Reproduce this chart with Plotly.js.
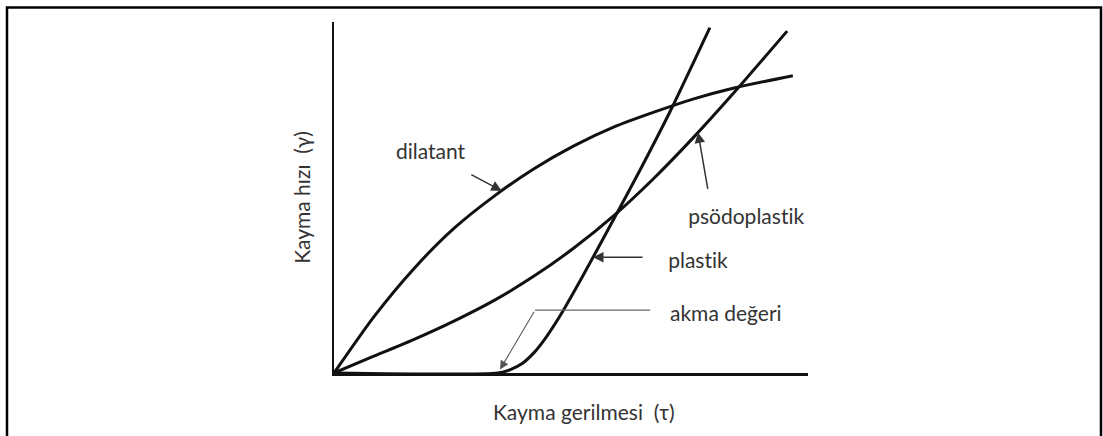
<!DOCTYPE html>
<html>
<head>
<meta charset="utf-8">
<script src="https://cdn.plot.ly/plotly-3.0.1.min.js"></script>
<style>
  html, body { margin: 0; padding: 0; background: #ffffff; }
  #chart { width: 1103px; height: 436px; }
  #chart text { font-variant-ligatures: none; font-feature-settings: "liga" 0, "clig" 0; }
</style>
</head>
<body>
<div id="chart"></div>
<script>
// Flow curves: shear rate (γ) against shear stress (τ), arbitrary units 0–10
const dilatantX = [0, 0.84, 1.69, 2.53, 3.38, 4.22, 5.06, 5.91, 6.75, 7.59, 8.44, 9.68];
const dilatantY = [0, 1.60, 2.98, 4.12, 5.04, 5.82, 6.47, 7.01, 7.43, 7.81, 8.12, 8.47];

const psodoX = [0, 0.84, 1.69, 2.53, 3.38, 4.22, 5.06, 5.91, 6.75, 7.59, 8.44, 9.56];
const psodoY = [0, 0.48, 0.96, 1.48, 2.07, 2.76, 3.56, 4.49, 5.55, 6.72, 7.99, 9.74];

const plastikX = [0, 3.46, 3.71, 3.97, 4.22, 4.47, 4.77, 5.19, 5.82, 6.46, 7.09, 7.93];
const plastikY = [0, 0, 0.09, 0.27, 0.58, 1.01, 1.63, 2.62, 4.18, 5.79, 7.45, 9.84];

// Yield stress: where the plastic curve leaves the stress axis
const akmaDegeri = plastikX[1];

const labels = {
  x: 'Kayma gerilmesi  (τ)',
  y: 'Kayma hızı  (γ)',
  dilatant: 'dilatant',
  psodo: 'psödoplastik',
  plastik: 'plastik',
  akma: 'akma değeri'
};

// linear lookup of y at a given x along a curve
function yAt(xs, ys, x) {
  for (let i = 1; i < xs.length; i++) {
    if (x <= xs[i]) {
      const t = (x - xs[i - 1]) / (xs[i] - xs[i - 1]);
      return ys[i - 1] + t * (ys[i] - ys[i - 1]);
    }
  }
  return ys[ys.length - 1];
}
// linear lookup of x at a given y along a rising curve
function xAt(xs, ys, y) {
  for (let i = 1; i < ys.length; i++) {
    if (y <= ys[i] && ys[i] > ys[i - 1]) {
      const t = (y - ys[i - 1]) / (ys[i] - ys[i - 1]);
      return xs[i - 1] + t * (xs[i] - xs[i - 1]);
    }
  }
  return xs[xs.length - 1];
}

const curveLine = { color: '#111111', width: 3, shape: 'spline', smoothing: 0.7 };

const traces = [
  { x: dilatantX, y: dilatantY, mode: 'lines', line: curveLine, name: labels.dilatant, hoverinfo: 'skip' },
  { x: psodoX, y: psodoY, mode: 'lines', line: curveLine, name: labels.psodo, hoverinfo: 'skip' },
  { x: plastikX, y: plastikY, mode: 'lines', line: curveLine, name: labels.plastik, hoverinfo: 'skip' }
];

const textFont = { family: 'Lato, "Open Sans", sans-serif', size: 21, color: '#333333' };

// arrow tips on the curves
const dilX = 3.54, dilY = yAt(dilatantX, dilatantY, dilX);
const psoX = 7.68, psoY = yAt(psodoX, psodoY, psoX);
const plaY = 3.30, plaX = xAt(plastikX, plastikY, plaY);
const bendX = 4.24, bendY = 1.79;

const annotations = [
  // stress-axis title, set slightly right of the axis centre
  { xref: 'paper', yref: 'paper', x: 0.527, y: -0.111, xanchor: 'center', yanchor: 'middle',
    text: labels.x, showarrow: false, font: textFont },

  { x: 1.26, y: 6.33, xanchor: 'left', yanchor: 'middle', text: labels.dilatant, showarrow: false, font: textFont },
  { x: 7.43, y: 4.48, xanchor: 'left', yanchor: 'middle', text: labels.psodo, showarrow: false, font: textFont },
  { x: 7.01, y: 3.23, xanchor: 'left', yanchor: 'middle', text: labels.plastik, showarrow: false, font: textFont },
  { x: 7.05, y: 1.72, xanchor: 'left', yanchor: 'middle', text: labels.akma, showarrow: false, font: textFont },

  { x: dilX, y: dilY, text: '', showarrow: true, ax: -32, ay: -17,
    arrowhead: 2, arrowsize: 1.4, arrowwidth: 1.5, arrowcolor: '#333333' },
  { x: psoX, y: psoY, text: '', showarrow: true, ax: 10, ay: 58,
    arrowhead: 2, arrowsize: 1.4, arrowwidth: 1.5, arrowcolor: '#333333' },
  { x: plaX, y: plaY, text: '', showarrow: true, ax: 51, ay: 0,
    arrowhead: 2, arrowsize: 1.4, arrowwidth: 1.5, arrowcolor: '#333333' },
  { x: akmaDegeri, y: 0, text: '', showarrow: true, axref: 'x', ayref: 'y', ax: bendX, ay: bendY,
    arrowhead: 2, arrowsize: 1.6, arrowwidth: 1.1, arrowcolor: '#555555', standoff: 4 }
];

const shapes = [
  // leader from the yield-value label to the bend of its arrow
  { type: 'line', xref: 'x', yref: 'y', x0: bendX, y0: bendY, x1: 6.67, y1: bendY,
    line: { color: '#666666', width: 1.2 } },
  // outer frame
  { type: 'rect', xref: 'paper', yref: 'paper',
    x0: (7 - 334) / 474, x1: (1101 - 334) / 474, y0: (373 - 460) / 351, y1: (373 - 7.5) / 351,
    line: { color: '#000000', width: 2.5 }, fillcolor: 'rgba(0,0,0,0)', layer: 'above' }
];

const axisCommon = {
  range: [0, 10],
  showgrid: false,
  zeroline: false,
  showticklabels: false,
  ticks: '',
  showline: true,
  linecolor: '#111111',
  linewidth: 2.5,
  fixedrange: true
};

const layout = {
  width: 1103,
  height: 436,
  margin: { l: 334, r: 295, t: 22, b: 63 },
  paper_bgcolor: '#ffffff',
  plot_bgcolor: '#ffffff',
  showlegend: false,
  xaxis: Object.assign({}, axisCommon),
  yaxis: Object.assign({}, axisCommon, {
    title: { text: labels.y, font: textFont, standoff: 15 }
  }),
  annotations: annotations,
  shapes: shapes
};

Plotly.newPlot('chart', traces, layout, { staticPlot: true, displayModeBar: false });
</script>
</body>
</html>
